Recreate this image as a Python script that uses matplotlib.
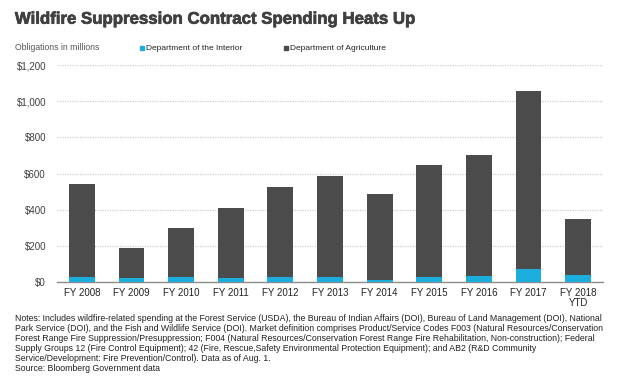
import numpy as np
import matplotlib.pyplot as plt
import matplotlib.patheffects as pe

years = ['FY 2008', 'FY 2009', 'FY 2010', 'FY 2011', 'FY 2012', 'FY 2013',
         'FY 2014', 'FY 2015', 'FY 2016', 'FY 2017', 'FY 2018\nYTD']
total = [542, 188, 299, 409, 523, 586, 488, 647, 702, 1054, 348]
interior = [26, 22, 26, 22, 26, 28, 13, 26, 31, 74, 39]
agriculture = [t - i for t, i in zip(total, interior)]
yticks = [0, 200, 400, 600, 800, 1000, 1200]

c_int = '#1BAEDD'
c_agr = '#4B4B4B'
grey = '#404040'

plt.rcParams['font.family'] = ['Liberation Sans', 'DejaVu Sans']

fig = plt.figure(figsize=(6.2, 3.84), dpi=100)
ax = fig.add_axes([0.092, 0.2656, 0.8806, 0.5651])

x = np.arange(len(years))
ax.bar(x, interior, width=0.52, color=c_int, zorder=3)
ax.bar(x, agriculture, width=0.52, bottom=interior, color=c_agr, zorder=3)

ax.set_xlim(-0.5, len(years) - 0.5)
ax.set_ylim(0, 1200)
ax.set_yticks(yticks)
ax.set_yticklabels([f'${v:,}' for v in yticks], fontsize=7, color=grey)
ax.set_xticks(x)
ax.set_xticklabels(years, fontsize=7, color='#222222', linespacing=1.1)
ax.tick_params(axis='x', length=0, pad=4)
ax.tick_params(axis='y', length=0, pad=8)
ax.grid(axis='y', color='#CDCDCD', linestyle=(0, (1, 1)), linewidth=0.9, zorder=0)
for s in ['top', 'right', 'left']:
    ax.spines[s].set_visible(False)
ax.spines['bottom'].set_color('#8C8C8C')
ax.spines['bottom'].set_linewidth(1)

fig.text(0.024, 0.950, 'Wildfire Suppression Contract Spending Heats Up',
         fontsize=12.1, fontweight='bold', color=grey, va='center',
         path_effects=[pe.withStroke(linewidth=0.5, foreground=grey)])
fig.text(0.024, 0.875, 'Obligations in millions', fontsize=6.2, color='#555555', va='center')

fig.patches.append(plt.Rectangle((0.226, 0.869), 0.007, 0.012, transform=fig.transFigure,
                                 color=c_int, figure=fig))
fig.text(0.236, 0.875, 'Department of the Interior', fontsize=6, color='#222222', va='center')
fig.patches.append(plt.Rectangle((0.458, 0.869), 0.007, 0.012, transform=fig.transFigure,
                                 color=c_agr, figure=fig))
fig.text(0.468, 0.875, 'Department of Agriculture', fontsize=6, color='#222222', va='center')

notes = ("Notes: Includes wildfire-related spending at the Forest Service (USDA), the Bureau of Indian Affairs (DOI), Bureau of Land Management (DOI), National\n"
         "Park Service (DOI), and the Fish and Wildlife Service (DOI). Market definition comprises Product/Service Codes F003 (Natural Resources/Conservation\n"
         "Forest Range Fire Suppression/Presuppression; F004 (Natural Resources/Conservation Forest Range Fire Rehabilitation, Non-construction); Federal\n"
         "Supply Groups 12 (Fire Control Equipment); 42 (Fire, Rescue,Safety Environmental Protection Equipment); and AB2 (R&D Community\n"
         "Service/Development: Fire Prevention/Control). Data as of Aug. 1.\n"
         "Source: Bloomberg Government data")
fig.text(0.024, 1 - 314 / 384, notes, fontsize=6.35, color='#222222', va='top',
         linespacing=1.15)

fig.savefig('out.png', dpi=100)
